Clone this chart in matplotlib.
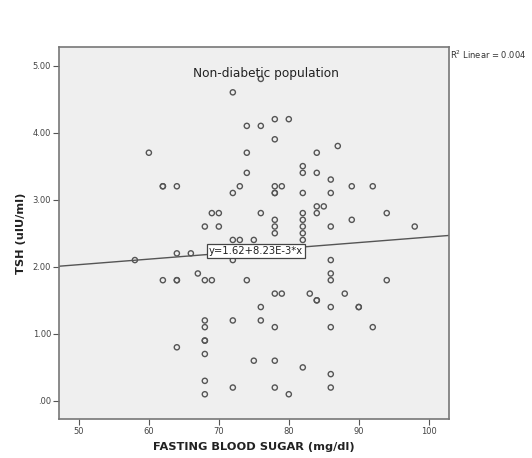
import numpy as np
import matplotlib
matplotlib.use('Agg')
import matplotlib.pyplot as plt

# Fasting blood sugar (mg/dl) and TSH (uIU/ml)
fbs = [58, 60, 62, 62, 64, 62, 64, 64, 64, 66, 64, 67, 68, 68, 69,
       68, 68, 68, 68, 68, 68, 68, 69, 70, 70,
       72, 72, 73, 72, 73, 72, 72, 72,
       74, 74, 74, 74, 75, 75, 76, 76, 76, 76, 76,
       78, 78, 78, 78, 78, 78, 78, 78, 78, 78, 78, 78,
       79, 79, 80, 80,
       82, 82, 82, 82, 82, 82, 82, 82, 82, 83,
       84, 84, 84, 84, 84, 84, 85,
       86, 86, 86, 86, 86, 86, 86, 86, 86, 86,
       87, 88, 89, 89, 90, 90, 92, 92, 94, 94, 98]
tsh = [2.1, 3.7, 3.2, 3.2, 3.2, 1.8, 1.8, 1.8, 2.2, 2.2, 0.8, 1.9, 2.6, 1.8, 1.8,
       1.2, 1.1, 0.9, 0.9, 0.7, 0.3, 0.1, 2.8, 2.8, 2.6,
       4.6, 3.1, 3.2, 2.4, 2.4, 2.1, 1.2, 0.2,
       4.1, 3.7, 3.4, 1.8, 2.4, 0.6, 4.8, 4.1, 2.8, 1.4, 1.2,
       4.2, 3.9, 3.2, 3.1, 3.1, 2.7, 2.6, 2.5, 1.6, 1.1, 0.6, 0.2,
       3.2, 1.6, 4.2, 0.1,
       3.5, 3.4, 3.1, 2.8, 2.7, 2.6, 2.5, 2.4, 0.5, 1.6,
       3.7, 3.4, 2.9, 2.8, 1.5, 1.5, 2.9,
       3.3, 3.1, 2.6, 2.1, 1.9, 1.8, 1.4, 1.1, 0.4, 0.2,
       3.8, 1.6, 3.2, 2.7, 1.4, 1.4, 3.2, 1.1, 2.8, 1.8, 2.6]

# linear fit reported on the chart
intercept = 1.62
slope = 8.23e-3
r2_text = 'Linear = 0.004'

x_ticks = [50, 60, 70, 80, 90, 100]
y_ticks = [0, 1, 2, 3, 4, 5]
y_tick_labels = ['.00', '1.00', '2.00', '3.00', '4.00', '5.00']

fig = plt.figure(figsize=(5.32, 4.58), dpi=100)
ax = fig.add_axes([0.1115, 0.085, 0.7325, 0.813])
ax.set_facecolor('#efefef')

ax.scatter(fbs, tsh, s=14, facecolors='none', edgecolors='#555555', linewidths=1.0, zorder=3)

xlim = (47.2, 102.9)
ax.set_xlim(xlim)
ax.set_ylim(-0.27, 5.28)

# fit line across the plot
xs = np.array(xlim)
ax.plot(xs, intercept + slope * xs, color='#555555', lw=1.0, zorder=2)

ax.text(75.3, 2.24, 'y=1.62+8.23E-3*x', fontsize=7.2, color='#222222', ha='center', va='center',
        bbox=dict(boxstyle='square,pad=0.2', fc='white', ec='#444444', lw=0.9), zorder=4)

ax.text(0.53, 0.928, 'Non-diabetic population', transform=ax.transAxes, fontsize=8.7,
        ha='center', va='center', color='#222222')

fig.text(0.846, 0.880, r'R$^2$ ' + r2_text, fontsize=6, color='#333333', ha='left', va='center')

ax.set_xticks(x_ticks)
ax.set_yticks(y_ticks)
ax.set_yticklabels(y_tick_labels)
ax.tick_params(axis='both', labelsize=6, colors='#555555', length=4, width=0.8,
               direction='out', pad=2)
ax.tick_params(axis='both', labelcolor='#444444')

for side in ax.spines.values():
    side.set_color('#777777')
    side.set_linewidth(1.2)

ax.set_xlabel('FASTING BLOOD SUGAR (mg/dl)', fontsize=8.2, fontweight='bold', color='#222222', labelpad=4)
ax.set_ylabel('TSH (uIU/ml)', fontsize=8.2, fontweight='bold', color='#222222', labelpad=5)

fig.savefig('out.png', dpi=100, facecolor='white')
